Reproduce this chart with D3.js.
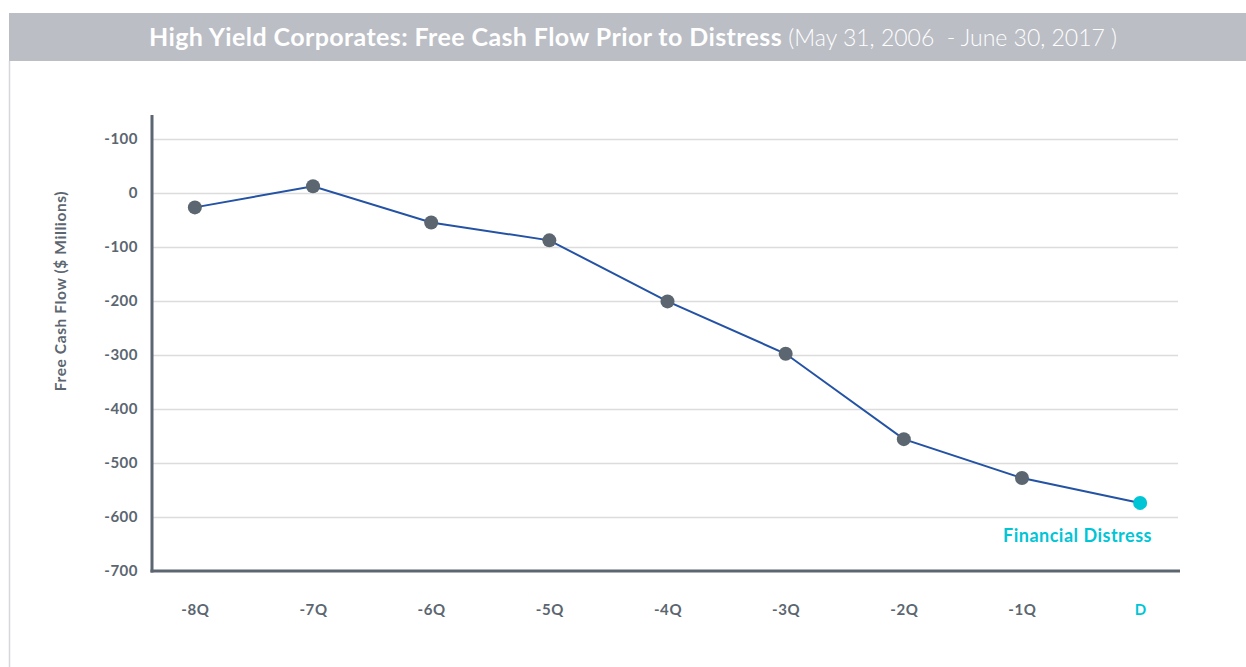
<!DOCTYPE html>
<html>
<head>
<meta charset="utf-8">
<script src="https://cdn.jsdelivr.net/npm/d3@7"></script>
<style>
    body { margin: 0; background: #fff; font-family: Lato, "Open Sans", sans-serif; }
    #chart { position: absolute; left: 0; top: 0; }
</style>
</head>
<body>
<div id="chart"></div>
<script>
// Quarters before financial distress
const quarters = ['-8Q', '-7Q', '-6Q', '-5Q', '-4Q', '-3Q', '-2Q', '-1Q', 'D'];
// Free cash flow ($ millions)
const cashFlow = [-27, 12, -55, -88, -201, -298, -456, -528, -574];
// Y tick values and the labels as printed on the original
const yTicks = [100, 0, -100, -200, -300, -400, -500, -600, -700];
const yTickLabels = ['-100', '0', '-100', '-200', '-300', '-400', '-500', '-600', '-700'];

const W = 1246, H = 667;
const grey = '#5b6670';
const cyan = '#00c5d5';

const svg = d3.select('#chart').append('svg')
    .attr('width', W)
    .attr('height', H);

// Header bar
svg.append('rect')
    .attr('x', 9).attr('y', 13)
    .attr('width', W - 9).attr('height', 48)
    .attr('fill', '#bbbec5');

// left border of the panel
svg.append('line')
    .attr('x1', 9.5).attr('x2', 9.5)
    .attr('y1', 61).attr('y2', H)
    .attr('stroke', '#d6d6de').attr('stroke-width', 1.5);

const title = svg.append('text')
    .attr('x', 633).attr('y', 46)
    .attr('text-anchor', 'middle')
    .attr('fill', '#fff');
title.append('tspan')
    .style('font-size', '25px')
    .style('font-weight', 700)
    .style('letter-spacing', '0.4px')
    .text('High Yield Corporates: Free Cash Flow Prior to Distress');
title.append('tspan')
    .style('font-size', '23px')
    .style('font-weight', 300)
    .text(' (May 31, 2006  - June 30, 2017 )')
    .attr('xml:space', 'preserve');

// Scales
const plot = { left: 152, right: 1180, top: 115, bottom: 571 };
const x = d3.scalePoint()
    .domain(quarters)
    .range([plot.left + 1.5, plot.right + 1.5])
    .padding(0.35);
const y = d3.scaleLinear()
    .domain([-700, 144])
    .range([plot.bottom, plot.top]);

// Grid lines
svg.append('g')
    .selectAll('line')
    .data(yTicks.filter(d => d !== -700))
    .enter()
    .append('line')
    .attr('x1', plot.left).attr('x2', plot.right - 2)
    .attr('y1', d => Math.round(y(d)) + 0.5)
    .attr('y2', d => Math.round(y(d)) + 0.5)
    .attr('stroke', '#dcdcdc')
    .attr('stroke-width', 1.5);

// Y axis
const yAxis = svg.append('g')
    .attr('transform', `translate(${plot.left},0)`)
    .call(d3.axisLeft(y).tickValues(yTicks).tickSize(0).tickPadding(14)
        .tickFormat((d, i) => yTickLabels[i]));
yAxis.select('.domain').remove();
yAxis.selectAll('text')
    .attr('fill', grey)
    .style('font-size', '15px')
    .style('font-weight', 700)
    .style('letter-spacing', '0.5px')
    .style('font-family', 'Lato, sans-serif');

// X axis
const xAxis = svg.append('g')
    .attr('transform', `translate(0,${plot.bottom})`)
    .call(d3.axisBottom(x).tickSize(0).tickPadding(33));
xAxis.select('.domain').remove();
xAxis.selectAll('text')
    .attr('fill', d => d === 'D' ? cyan : grey)
    .style('font-size', '15px')
    .style('font-weight', 700)
    .style('letter-spacing', '0.6px')
    .style('font-family', 'Lato, sans-serif');

// Axis lines
svg.append('line')
    .attr('x1', plot.left).attr('x2', plot.left)
    .attr('y1', plot.top).attr('y2', plot.bottom + 1.5)
    .attr('stroke', grey).attr('stroke-width', 3);
svg.append('line')
    .attr('x1', plot.left - 1.5).attr('x2', plot.right)
    .attr('y1', plot.bottom).attr('y2', plot.bottom)
    .attr('stroke', grey).attr('stroke-width', 3);

// Y axis title
svg.append('text')
    .attr('transform', `translate(66,${(plot.top + plot.bottom) / 2 - 52}) rotate(-90)`)
    .attr('text-anchor', 'middle')
    .attr('fill', grey)
    .style('font-size', '15.5px')
    .style('font-weight', 700)
    .style('letter-spacing', '0.6px')
    .text('Free Cash Flow ($ Millions)');

// Line
const points = quarters.map((q, i) => ({ q: q, v: cashFlow[i] }));
svg.append('path')
    .datum(points)
    .attr('fill', 'none')
    .attr('stroke', '#2452a4')
    .attr('stroke-width', 2)
    .attr('d', d3.line().x(d => x(d.q)).y(d => y(d.v)));

svg.selectAll('.dot')
    .data(points)
    .enter()
    .append('circle')
    .attr('class', 'dot')
    .attr('cx', d => x(d.q))
    .attr('cy', d => y(d.v))
    .attr('r', 7)
    .attr('fill', d => d.q === 'D' ? cyan : grey);

// Annotation
svg.append('text')
    .attr('x', 1152)
    .attr('y', y(cashFlow[cashFlow.length - 1]) + 39)
    .attr('text-anchor', 'end')
    .attr('fill', cyan)
    .style('font-size', '18px')
    .style('font-weight', 700)
    .style('letter-spacing', '0.5px')
    .text('Financial Distress');
</script>
</body>
</html>
